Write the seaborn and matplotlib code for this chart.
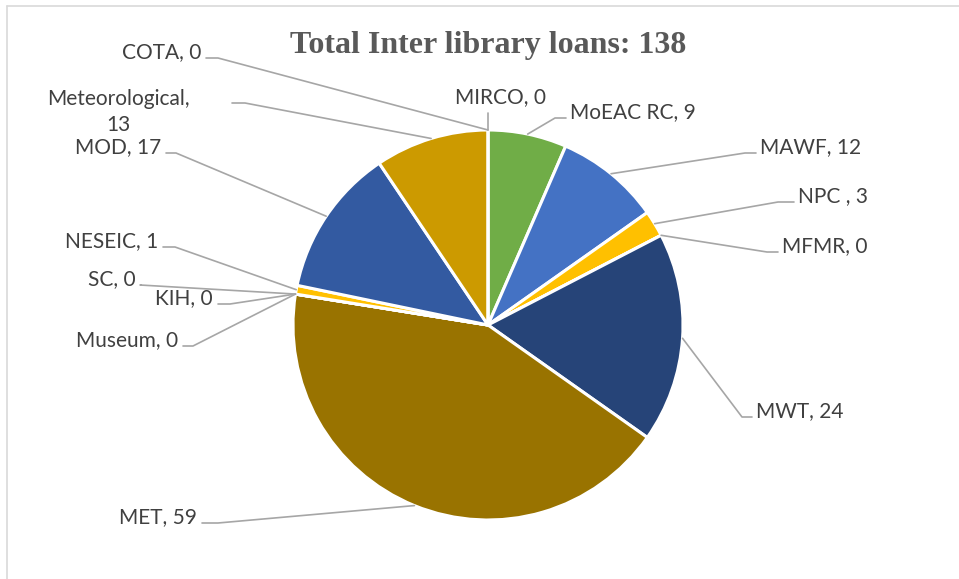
import numpy as np
import matplotlib
matplotlib.use("Agg")
import matplotlib.pyplot as plt
import seaborn as sns

# ---- data ----
categories = ["MIRCO", "MoEAC RC", "MAWF", "NPC ", "MFMR", "MWT", "MET",
              "Museum", "KIH", "SC", "NESEIC", "MOD", "Meteorological", "COTA"]
loans = [0, 9, 12, 3, 0, 24, 59, 0, 0, 0, 1, 17, 13, 0]
title_text = "Total Inter library loans: 138"

colors = ["#A5A5A5", "#70AD47", "#4472C4", "#FFC000", "#5B9BD5", "#264478",
          "#997300", "#636363", "#43682B", "#255E91", "#FFC000", "#335AA1",
          "#CC9A00", "#698ED0"]

# label layout (pixel coords, y from top): text x, text y, ha, elbow x
label_layout = {
    "MIRCO":          (455, 97, "left", None),
    "MoEAC RC":       (570, 112, "left", 555),
    "MAWF":           (760, 147, "left", 745),
    "NPC ":           (798, 196, "left", 778),
    "MFMR":           (782, 246, "left", 767),
    "MWT":            (756, 411, "left", 742),
    "MET":            (197, 517, "right", 218),
    "Museum":         (178, 340, "right", 193),
    "KIH":            (213, 298, "right", 230),
    "SC":             (136, 279, "right", 140),
    "NESEIC":         (158, 241, "right", 175),
    "MOD":            (161, 147, "right", 176),
    "Meteorological": (118, 112, "center", 245),
    "COTA":           (201, 52, "right", 218),
}

W, H = 959, 579
sns.set_theme(style="white")
plt.rcParams["font.family"] = ["Lato", "DejaVu Sans"]

fig = plt.figure(figsize=(W / 100, H / 100), dpi=100)
ax = fig.add_axes([0, 0, 1, 1])
ax.set_xlim(0, W)
ax.set_ylim(H, 0)
ax.set_aspect("equal")
ax.axis("off")

cx, cy, R = 488, 325, 195
wedges, _ = ax.pie(loans, colors=colors, startangle=-90, counterclock=True,
                   center=(cx, cy), radius=R,
                   wedgeprops=dict(edgecolor="white", linewidth=2.2))
ax.set_xlim(0, W)
ax.set_ylim(H, 0)

# border
ax.plot([7, 7], [H, 6], color="#D9D9D9", lw=1.2, clip_on=False)
ax.plot([7, W], [6, 6], color="#D9D9D9", lw=1.2, clip_on=False)

ax.text(488, 46, title_text, ha="center", va="center", fontsize=23,
        fontweight="bold", color="#595959", family="Liberation Serif")

for w, name, val in zip(wedges, categories, loans):
    ang = np.deg2rad((w.theta1 + w.theta2) / 2)
    ex = cx + R * np.cos(ang)
    ey = cy + R * np.sin(ang)
    tx, ty, ha, elbow = label_layout[name]
    if name == "Meteorological":
        txt = f"{name},\n{val}"
    else:
        txt = f"{name}, {val}"
    ax.text(tx, ty, txt, ha=ha, va="center", fontsize=15, color="#404040",
            linespacing=1.4)
    if elbow is None:
        ax.plot([ex, ex], [113, ey], color="#A6A6A6", lw=1.2)
    else:
        if ha == "left":
            sx = tx - 4
        elif ha == "right":
            sx = tx + 5
        else:
            sx = 232
        ly = ty + 6 if name != "Meteorological" else 103
        ax.plot([sx, elbow, ex], [ly, ly, ey], color="#A6A6A6", lw=1.2)

fig.savefig("out.png", dpi=100)
